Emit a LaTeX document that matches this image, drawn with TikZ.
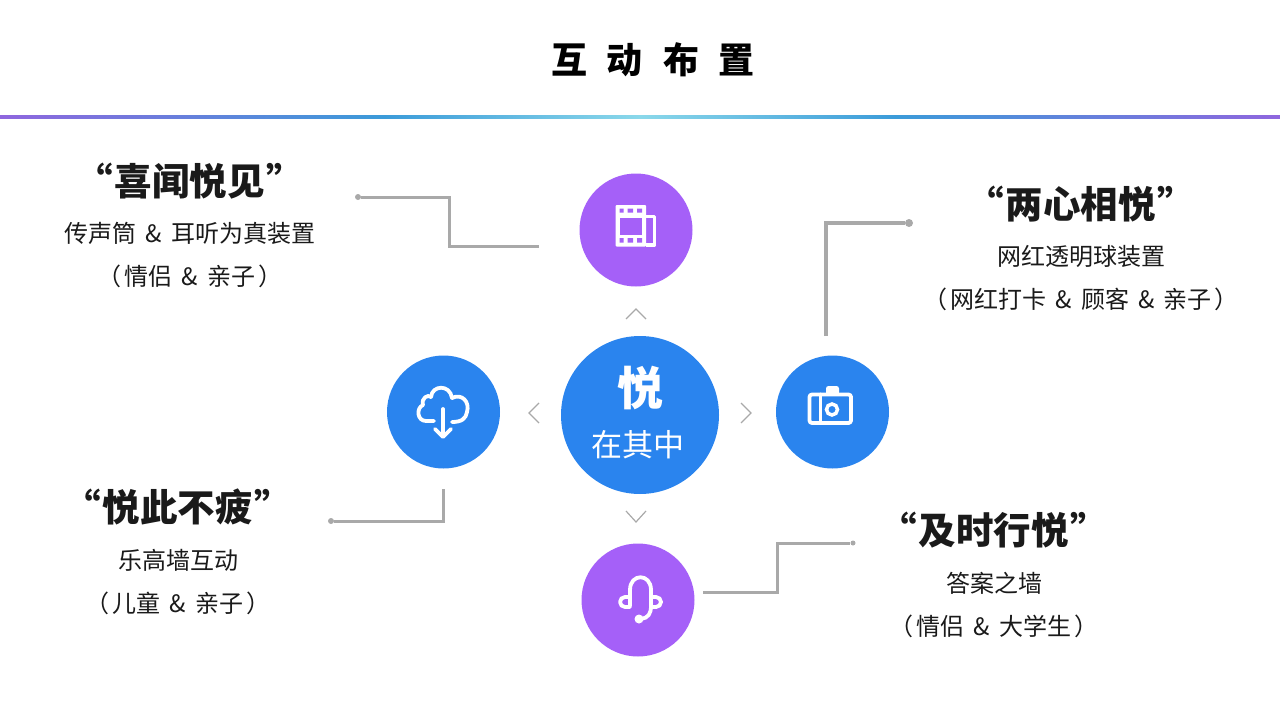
\documentclass[tikz,border=0pt]{standalone}
\usepackage{fontspec}
\usetikzlibrary{arrows.meta,positioning,calc}
\setmainfont{Noto Sans CJK SC}
\definecolor{hubblue}{HTML}{2A84EE}
\definecolor{violet}{HTML}{A560F8}
\definecolor{wire}{HTML}{A9A9A9}
\definecolor{inkdark}{HTML}{1A1A1A}
\definecolor{ruleend}{HTML}{8F66DE}
\definecolor{rulemid}{HTML}{3B9BD9}
\definecolor{rulelight}{HTML}{8AD8EA}
\pgfdeclarehorizontalshading{headrule}{100bp}{color(0bp)=(ruleend); color(25bp)=(ruleend); color(40bp)=(rulemid); color(50bp)=(rulelight); color(60bp)=(rulemid); color(75bp)=(ruleend); color(100bp)=(ruleend)}
\newcommand{\andsign}{\hspace{9pt}\&\hspace{9pt}}

\begin{document}
\begin{tikzpicture}[
    x=1pt, y=-1pt,
    disc/.style={circle, minimum size=113pt, inner sep=0pt},
    head/.style={font=\fontsize{37.5}{38}\selectfont\bfseries, text=inkdark, inner sep=0pt},
    line/.style={font=\fontsize{24}{24}\selectfont, text=inkdark, inner sep=0pt},
    wireline/.style={wire, line width=3pt},
    enddot/.style={circle, fill=wire, minimum size=6pt, inner sep=0pt},
    chev/.style={wire, line width=1.2pt},
    icon/.style={white, line width=3.8pt, line cap=round, line join=round}
]
    \useasboundingbox (0,0) rectangle (1280,720);

    \node[font=\fontsize{36}{36}\selectfont\bfseries, inner sep=0pt] (title) at (653,60) {互\hspace{20pt}动\hspace{20pt}布\hspace{20pt}置};
    \shade[shading=headrule] (0,115) rectangle (1280,118);

    % discs
    \node[disc, minimum size=158pt, fill=hubblue] (hub) at (640,415) {};
    \node[disc, fill=violet] (film) at (636,230) {};
    \node[disc, fill=hubblue] (cloud) at (443.5,412) {};
    \node[disc, fill=hubblue] (camera) at (832.5,412) {};
    \node[disc, fill=violet] (phones) at (638,600) {};

    \node[font=\fontsize{46}{46}\selectfont\bfseries, text=white, inner sep=0pt] (yue) at (640,388) {悦};
    \node[font=\fontsize{31}{31}\selectfont, text=white, inner sep=0pt] (zai) at (638,445) {在其中};

    % chevrons
    \draw[chev] (626,319) -- (636,309) -- (646,319);
    \draw[chev] (539,403) -- (529,413) -- (539,423);
    \draw[chev] (741,403) -- (751,413) -- (741,423);
    \draw[chev] (626,511) -- (636,522) -- (646,511);

    % text blocks
    \node[head] (t1) at (190,181) {“\hspace{2pt}喜闻悦见\hspace{2pt}”};
    \node[line] (t1a) at ($(t1)+(0,52.5)$) {传声筒\andsign 耳听为真装置};
    \node[line] (t1b) at ($(t1a)+(0,43)$) {（\hspace{3pt}情侣\andsign 亲子\hspace{3pt}）};

    \node[head] (t2) at (1081,204) {“\hspace{2pt}两心相悦\hspace{2pt}”};
    \node[line] (t2a) at ($(t2)+(0,52)$) {网红透明球装置};
    \node[line] (t2b) at ($(t2a)+(0,43)$) {（\hspace{3pt}网红打卡\andsign 顾客\andsign 亲子\hspace{3pt}）};

    \node[head] (t3) at (178,507) {“\hspace{2pt}悦此不疲\hspace{2pt}”};
    \node[line] (t3a) at ($(t3)+(0,53)$) {乐高墙互动};
    \node[line] (t3b) at ($(t3a)+(0,43)$) {（\hspace{3pt}儿童\andsign 亲子\hspace{3pt}）};

    \node[head] (t4) at (994,530) {“\hspace{2pt}及时行悦\hspace{2pt}”};
    \node[line] (t4a) at ($(t4)+(0,53)$) {答案之墙};
    \node[line] (t4b) at ($(t4a)+(0,43)$) {（\hspace{3pt}情侣\andsign 大学生\hspace{3pt}）};

    % connectors
    \coordinate (w1a) at (539,246);
    \node[enddot] (w1b) at (358,197) {};
    \coordinate (w2a) at (826,336);
    \node[enddot, minimum size=8pt] (w2b) at (909,223) {};
    \coordinate (w3a) at (443,489);
    \node[enddot] (w3b) at (331,521) {};
    \coordinate (w4a) at (703,592);
    \node[enddot, minimum size=5pt] (w4b) at (853,543) {};
    \draw[wireline] (w1a) -- (449,246) -- (449,197) -- (w1b);
    \draw[wireline, line width=4.2pt] (w2a) -- (826,223) -- (w2b);
    \draw[wireline] (w3a) -- (443,521) -- (w3b);
    \draw[wireline] (w4a) -- (777,592) -- (777,543) -- (w4b);

    % film icon
    \fill[white, rounded corners=1pt] (615.5,205) rectangle (646,246.5);
    \fill[violet] (619.5,208.5) rectangle (623.5,212.5) (627.5,208.5) rectangle (633,212.5) (637,208.5) rectangle (642,212.5);
    \fill[violet] (619.5,238) rectangle (623.5,242.5) (627.5,238) rectangle (633,242.5) (637,238) rectangle (642,242.5);
    \fill[violet] (619.5,217.5) rectangle (642,234.5);
    \draw[white, line width=3.4pt, line join=round] (646,216.5) -- (654.5,216.5) -- (654.5,245) -- (646,245);

    % cloud icon
    \draw[icon] (434,421) -- (426,421) .. controls (417,421) and (416,408) .. (423,405)
        .. controls (421,398) and (428,394) .. (431,397)
        .. controls (432,385) and (450,384) .. (452,398)
        .. controls (462,393) and (470,402) .. (467,412)
        .. controls (466,419) and (461,422) .. (452,422);
    \draw[icon] (443,409) -- (443,436);
    \draw[icon] (435,429) -- (443,437) -- (451,429);

    % camera icon
    \draw[icon, rounded corners=2.5pt] (809.5,394.5) rectangle (851,423);
    \draw[icon] (820.5,394.5) -- (820.5,423);
    \draw[white, line width=3.5pt] (832,409.5) circle (5.5pt);
    \fill[white, rounded corners=2.5pt] (826,395) -- (826,386) -- (839,386) -- (839,395) -- cycle;

    % headset icon
    \draw[icon] (630,606) -- (630,590) .. controls (630,573) and (651,573) .. (651,590) -- (651,606)
        .. controls (651,614) and (648,618) .. (641,619);
    \draw[icon] (630,597) -- (625,597) arc (90:270:5pt) -- (630,607);
    \draw[icon] (651,597) -- (656,597) arc (90:-90:5pt) -- (651,607);
    \fill[white] (639,619) circle (4.5pt);
\end{tikzpicture}
\end{document}
